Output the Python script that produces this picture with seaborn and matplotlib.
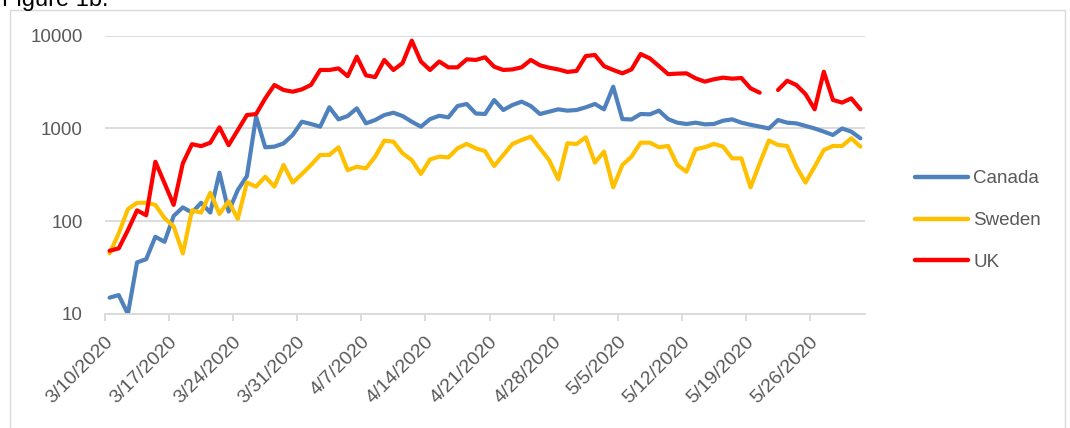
import numpy as np
import pandas as pd
import matplotlib
matplotlib.use("Agg")
import matplotlib.pyplot as plt
from matplotlib.patches import Rectangle
from matplotlib.ticker import NullLocator
from matplotlib.transforms import ScaledTranslation
import seaborn as sns

# ---------------- data ----------------
nan = np.nan
countries = ["Canada", "Sweden", "UK"]
colors = ["#4F81BD", "#FFC000", "#FF0000"]

# daily values from 3/10/2020 to 5/31/2020 (83 days)
canada = [15, 16, 10, 36, 39, 68, 60, 114, 141, 124, 158, 124, 334, 127, 217, 307, 1340, 626, 637, 690, 851,
          1183, 1117, 1045, 1690, 1254, 1361, 1648, 1135, 1232, 1395, 1478, 1361, 1183, 1045, 1262, 1370, 1318,
          1746, 1836, 1450, 1432,
          2027, 1581, 1791, 1946, 1746, 1432, 1517, 1608, 1556, 1581, 1690, 1836, 1608, 2820, 1262, 1250, 1432,
          1420, 1556, 1262,
          1155, 1117, 1155, 1108, 1117, 1213, 1254, 1155, 1096, 1048, 1000, 1233, 1155, 1135, 1065, 1000, 925,
          851, 1000, 925, 783]
sweden = [45, 74, 135, 158, 158, 150, 108, 88, 45, 131, 124, 203, 120, 164, 106, 261, 236, 302, 236, 404, 261,
          323, 404, 518, 518, 627, 355, 387, 371, 497, 738, 721, 540, 457, 323, 464, 497, 488, 611, 681, 611,
          570,
          394, 518, 681, 751, 817, 611, 457, 283, 692, 681, 803, 428, 563, 232, 404, 497, 703, 703, 627, 648,
          404, 342, 596, 627, 681, 637, 476, 476, 232, 421, 741, 664, 648, 387, 261, 387, 586, 648, 648, 783, 637]
uk = [48, 51, 80, 131, 116, 438, 257, 150, 421, 677, 645, 702, 1028, 660, 960, 1396, 1430, 2110, 2940, 2600, 2490,
      2640, 2950, 4270, 4270, 4440, 3660, 5940, 3740, 3580, 5480, 4270, 5070, 8840, 5270, 4270, 5270, 4560, 4560,
      5560, 5480, 5850,
      4630, 4270, 4330, 4560, 5480, 4800, 4520, 4330, 4070, 4170, 6030, 6200, 4700, 4270, 3930, 4330, 6340, 5700,
      4700, 3850,
      3900, 3930, 3470, 3200, 3390, 3530, 3440, 3500, 2710, 2430, nan, 2600, 3270, 2940, 2350, 1610, 4090, 2030,
      1900, 2110, 1610]

tick_positions = [0, 7, 14, 21, 28, 35, 42, 49, 56, 63, 70, 77]
tick_labels = ["3/10/2020", "3/17/2020", "3/24/2020", "3/31/2020", "4/7/2020", "4/14/2020",
               "4/21/2020", "4/28/2020", "5/5/2020", "5/12/2020", "5/19/2020", "5/26/2020"]

# long-form table; a missing value starts a new line segment
rows = []
for name, vals in zip(countries, [canada, sweden, uk]):
    seg = 0
    for i, v in enumerate(vals):
        if v != v:
            seg += 1
            continue
        rows.append({"day": i, "value": v, "country": name, "seg": f"{name}_{seg}"})
df = pd.DataFrame(rows)

# ---------------- figure ----------------
sns.set_theme(style="white")
plt.rcParams["font.family"] = ["Liberation Sans", "DejaVu Sans"]

W, H = 1070, 428
fig = plt.figure(figsize=(W / 100, H / 100), dpi=100)
ax = fig.add_axes([105 / W, 1 - 314 / H, 760 / W, (314 - 35.7) / H])

sns.lineplot(data=df, x="day", y="value", hue="country", units="seg", estimator=None,
             palette=dict(zip(countries, colors)), hue_order=countries,
             linewidth=3.0, ax=ax)
for ln in ax.lines:
    ln.set_solid_capstyle("round")
    ln.set_solid_joinstyle("round")

grey_txt = "#595959"
grid_c = "#D9D9D9"

ax.set_yscale("log")
ax.set_ylim(10, 10000)
ax.set_yticks([10, 100, 1000, 10000])
ax.set_yticklabels(["10", "100", "1000", "10000"])
ax.yaxis.set_minor_locator(NullLocator())
ax.tick_params(axis="y", which="both", length=0, pad=16, labelsize=13.5, labelcolor=grey_txt)
ax.grid(axis="y", color=grid_c, linewidth=1.3)
ax.grid(axis="x", visible=False)

ax.set_xlim(-0.5, 82.5)
boundaries = [p - 0.5 for p in tick_positions]
ax.set_xticks(boundaries)
ax.set_xticklabels([""] * len(boundaries))
ax.tick_params(axis="x", which="major", length=5, width=1.3, color=grid_c, direction="out", bottom=True)
ax.set_xticks(tick_positions, labels=tick_labels, minor=True)
ax.tick_params(axis="x", which="minor", length=0, pad=14, labelsize=14, labelcolor=grey_txt)
shift = ScaledTranslation(-5 / 100, 0, fig.dpi_scale_trans)
for lbl in ax.get_xticklabels(minor=True):
    lbl.set_rotation(45)
    lbl.set_ha("right")
    lbl.set_va("top")
    lbl.set_rotation_mode("anchor")
    lbl.set_transform(lbl.get_transform() + shift)

for s in ["left", "top", "right"]:
    ax.spines[s].set_visible(False)
ax.spines["bottom"].set_color(grid_c)
ax.spines["bottom"].set_linewidth(1.3)
ax.set_xlabel("")
ax.set_ylabel("")

handles, labels = ax.get_legend_handles_labels()
if ax.get_legend() is not None:
    ax.get_legend().remove()
leg = fig.legend(handles, labels, loc="center left", bbox_to_anchor=(915 / W, 1 - 220.5 / H),
                 frameon=False, fontsize=13.5, handlelength=2.8, handletextpad=0.3,
                 labelspacing=1.32, borderpad=0, borderaxespad=0, labelcolor=grey_txt)
for h in leg.legend_handles:
    h.set_linewidth(3.2)
    h.set_solid_capstyle("round")

# chart frame and title (the title sits partly above the top edge, as in the source)
fig.add_artist(Rectangle((10 / W, -0.1), (1065 - 10) / W, 1 - 10 / H + 0.1,
                         transform=fig.transFigure, fill=False, edgecolor=grid_c, linewidth=1))
fig.text(2 / W, 1 - 6 / H, "Figure 1b.", fontsize=17, va="baseline", ha="left", color="black")

fig.savefig("out.png", dpi=100)
